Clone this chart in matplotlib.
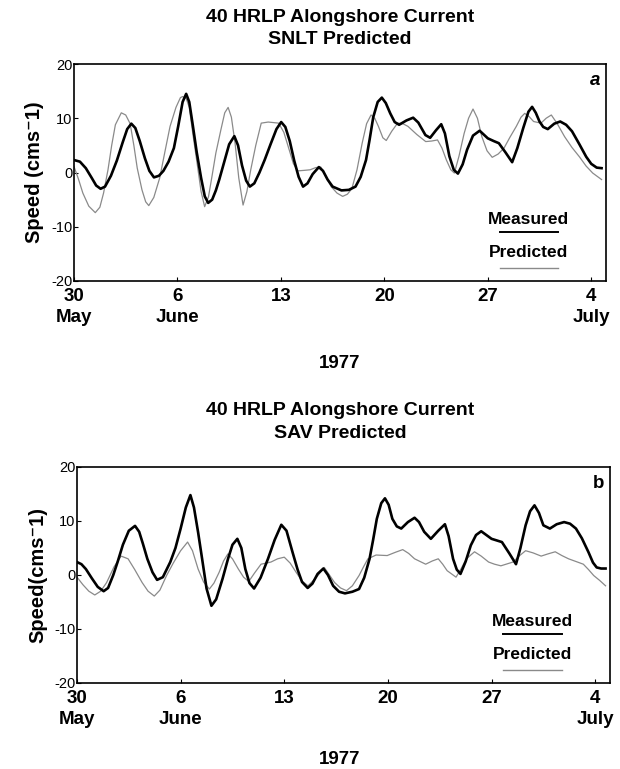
import matplotlib
matplotlib.use("Agg")
import matplotlib.pyplot as plt

plt.rcParams['font.family'] = ['Liberation Sans', 'DejaVu Sans']
plt.rcParams['font.weight'] = 'bold'

meas_a_day = [0, 0.4, 0.8, 1.2, 1.5, 1.8, 2.1, 2.5, 2.9, 3.3, 3.6, 3.88, 4.15, 4.45, 4.8, 5.1,
              5.41, 5.75, 6.05, 6.4, 6.76, 7.05, 7.35, 7.59, 7.8, 8.05, 8.3, 8.6, 8.85, 9.08,
              9.35, 9.6, 9.83, 10.15, 10.5, 10.85, 11.1, 11.37, 11.65, 11.9, 12.2, 12.55, 12.9,
              13.3, 13.7, 14.02, 14.3, 14.6, 14.9, 15.2, 15.5, 15.8, 16.15, 16.57, 16.85, 17.16,
              17.5, 18.1, 18.6, 19.05, 19.4, 19.76, 20.0, 20.25, 20.55, 20.83, 21.1, 21.4, 21.7,
              22.0, 22.5, 22.95, 23.3, 23.78, 24.1, 24.5, 24.85, 25.1, 25.4, 25.7, 25.98, 26.3,
              26.6, 27.0, 27.45, 28.0, 28.4, 28.75, 29.2, 29.65, 30.0, 30.4, 30.75, 31.0, 31.25,
              31.5, 31.75, 32.06, 32.5, 32.9, 33.3, 33.7, 34.2, 34.66, 35.0, 35.37, 35.7]
meas_a = [2.3, 2.0, 0.8, -1.0, -2.4, -3.0, -2.6, -0.6, 2.2, 5.6, 8.0, 9.0, 8.2, 5.8, 2.6, 0.3,
          -0.9, -0.6, 0.3, 2.0, 4.5, 8.5, 13.0, 14.5, 13.0, 8.5, 3.8, -1.0, -4.4, -5.6,
          -5.0, -3.3, -1.3, 1.8, 5.2, 6.7, 5.0, 1.3, -1.5, -2.6, -2.0, 0.0, 2.3,
          5.2, 8.0, 9.3, 8.4, 5.8, 2.2, -0.8, -2.6, -2.0, -0.3, 1.0, 0.3, -1.3,
          -2.6, -3.3, -3.2, -2.6, -0.8, 2.3, 6.0, 10.2, 13.0, 13.8, 12.8, 10.9, 9.3,
          8.8, 9.6, 10.1, 9.2, 6.9, 6.4, 7.8, 8.9, 7.2, 3.0, 0.5, -0.2, 1.5,
          4.2, 6.8, 7.7, 6.3, 5.8, 5.4, 3.7, 1.9, 4.5, 8.2, 11.2, 12.1, 11.0,
          9.4, 8.4, 8.0, 9.0, 9.4, 8.8, 7.6, 5.2, 2.9, 1.6, 0.9, 0.8]

pred_a_day = [0, 0.3, 0.6, 1.0, 1.44, 1.75, 2.0, 2.3, 2.55, 2.8, 3.2, 3.5, 3.8, 4.05, 4.28, 4.6,
              4.85, 5.06, 5.4, 5.8, 6.15, 6.5, 6.9, 7.2, 7.35, 7.6, 7.8, 8.05, 8.3, 8.6, 8.84,
              9.1, 9.35, 9.6, 9.95, 10.2, 10.43, 10.65, 10.9, 11.15, 11.44, 11.7, 11.96, 12.3,
              12.67, 13.14, 13.5, 13.85, 14.2, 14.56, 14.85, 15.15, 15.6, 15.98, 16.35, 16.7,
              17.05, 17.4, 17.8, 18.18, 18.5, 18.8, 19.15, 19.5, 19.8, 20.1, 20.35, 20.6, 20.9,
              21.13, 21.5, 21.9, 22.25, 22.6, 23.2, 23.8, 24.2, 24.6, 24.9, 25.2, 25.5, 25.74,
              26.05, 26.4, 26.7, 27.0, 27.3, 27.6, 27.95, 28.3, 28.7, 29.1, 29.5, 29.93, 30.25,
              30.5, 30.8, 31.1, 31.6, 31.95, 32.3, 32.7, 33.2, 33.7, 34.2, 34.65, 35.1, 35.7]
pred_a = [1.1, -1.2, -3.8, -6.2, -7.4, -6.4, -3.8, 0.5, 5.0, 8.8, 11.0, 10.6, 9.0, 5.0, 0.8, -3.2,
          -5.4, -6.1, -4.6, -1.0, 3.8, 8.5, 12.0, 13.8, 14.0, 13.6, 12.0, 7.0, 2.3, -3.5, -6.3,
          -4.5, -0.5, 3.6, 8.0, 11.0, 12.0, 10.2, 5.4, -1.0, -6.0, -3.5, 0.5, 5.0,
          9.1, 9.3, 9.2, 9.1, 7.4, 4.2, 1.6, 0.3, 0.4, 0.5, 0.9, 1.0,
          -0.8, -2.6, -3.8, -4.4, -4.0, -3.0, 0.5, 5.4, 9.0, 10.6, 10.0, 8.5, 6.4,
          5.9, 7.6, 9.1, 9.0, 8.5, 7.0, 5.7, 5.8, 6.0, 4.5, 2.3, 0.5, -0.1,
          3.0, 7.2, 10.0, 11.7, 10.0, 6.6, 4.0, 2.8, 3.4, 4.5, 6.5, 8.5, 10.2,
          10.9, 10.3, 9.4, 9.1, 10.0, 10.6, 9.0, 6.6, 4.6, 2.9, 1.2, -0.1, -1.3]

meas_b_day = [0, 0.3, 0.6, 1.0, 1.4, 1.8, 2.1, 2.45, 2.74, 3.1, 3.5, 3.92, 4.2, 4.45, 4.75, 5.1,
              5.41, 5.8, 6.3, 6.65, 7.0, 7.35, 7.66, 7.9, 8.18, 8.45, 8.75, 9.08, 9.4, 9.83,
              10.2, 10.5, 10.83, 11.1, 11.37, 11.65, 11.96, 12.4, 12.9, 13.35, 13.8, 14.15,
              14.56, 14.9, 15.2, 15.58, 15.9, 16.25, 16.64, 16.95, 17.3, 17.7, 18.1, 18.6, 19.05,
              19.4, 19.76, 20.0, 20.25, 20.55, 20.8, 21.05, 21.3, 21.6, 21.9, 22.35, 22.8, 23.1,
              23.45, 23.9, 24.4, 24.85, 25.1, 25.4, 25.65, 25.9, 26.25, 26.6, 26.95, 27.3, 28.0,
              28.7, 29.2, 29.65, 29.95, 30.3, 30.6, 30.9, 31.2, 31.5, 31.94, 32.4, 32.9, 33.3,
              33.7, 34.1, 34.55, 34.85, 35.1, 35.4, 35.7]
meas_b = [2.4, 2.0, 1.1, -0.6, -2.2, -3.0, -2.4, 0.0, 2.4, 5.6, 8.2, 9.1, 8.0, 5.8, 3.0, 0.5,
          -0.9, -0.4, 2.4, 5.0, 8.6, 12.5, 14.8, 12.5, 7.9, 3.0, -2.5, -5.7, -4.5, -0.7,
          3.0, 5.6, 6.7, 5.0, 1.1, -1.5, -2.5, -0.5, 3.0, 6.5, 9.3, 8.2,
          4.2, 1.0, -1.3, -2.4, -1.6, 0.2, 1.2, 0.0, -2.0, -3.1, -3.4, -3.1, -2.6,
          -0.5, 3.0, 6.5, 10.4, 13.3, 14.2, 13.0, 10.4, 9.0, 8.6, 9.8, 10.6, 9.8,
          8.0, 6.7, 8.2, 9.4, 7.2, 3.0, 1.0, 0.2, 2.5, 5.5, 7.4, 8.1, 6.7,
          6.1, 4.0, 2.0, 5.0, 9.2, 11.8, 12.9, 11.5, 9.2, 8.6, 9.4, 9.8, 9.5,
          8.6, 6.8, 4.2, 2.3, 1.4, 1.2, 1.2]

pred_b_day = [0, 0.4, 0.8, 1.2, 1.6, 2.0, 2.5, 2.98, 3.45, 3.9, 4.4, 4.8, 5.22, 5.6, 6.05, 6.5,
              7.0, 7.47, 7.8, 8.18, 8.55, 8.94, 9.25, 9.6, 9.9, 10.19, 10.5, 10.9, 11.25, 11.6,
              12.0, 12.43, 13.1, 13.55, 14.0, 14.4, 14.8, 15.2, 15.6, 16.15, 16.7, 17.05, 17.4,
              17.8, 18.2, 18.6, 19.05, 19.35, 19.65, 20.2, 20.95, 21.5, 22.0, 22.4, 22.8, 23.55,
              24.0, 24.4, 24.7, 25.0, 25.6, 25.95, 26.3, 26.85, 27.3, 27.8, 28.2, 28.63, 29.45,
              29.9, 30.3, 30.8, 31.35, 31.8, 32.3, 32.75, 33.2, 33.7, 34.2, 34.55, 34.9, 35.3, 35.7]
pred_b = [-0.4, -1.8, -3.0, -3.7, -3.0, -1.4, 1.5, 3.5, 3.0, 1.0, -1.4, -3.0, -3.9, -2.8, -0.1, 2.2,
          4.5, 6.1, 4.5, 1.1, -1.3, -2.6, -1.5, 0.5, 2.6, 3.9, 3.0, 1.1, -0.4, -1.2,
          0.4, 2.0, 2.4, 3.0, 3.3, 2.2, 0.5, -1.1, -2.0, -0.5, 1.4, 0.0, -1.4,
          -2.4, -2.9, -2.0, -0.1, 1.5, 3.0, 3.7, 3.6, 4.2, 4.7, 4.0, 3.0, 2.0,
          2.6, 3.0, 2.0, 0.8, -0.4, 1.2, 3.0, 4.3, 3.5, 2.4, 2.0, 1.7, 2.4,
          3.6, 4.5, 4.1, 3.5, 3.9, 4.3, 3.6, 3.0, 2.5, 2.0, 1.0, -0.1, -1.0, -2.0]

tick_days = [0, 7, 14, 21, 28, 35]
tick_labels = ["30\nMay", "6\nJune", "13", "20", "27", "4\nJuly"]
yticks = [-20, -10, 0, 10, 20]

W, H = 620, 769
fig = plt.figure(figsize=(W / 100, H / 100), dpi=100)


def panel(rect, md, m, pd, p, title2, ylab, letter, italic, ytitle, yyear):
    ax = fig.add_axes(rect)
    ax.plot(pd, p, color='#8a8a8a', lw=0.9)
    ax.plot(md, m, color='black', lw=1.9)
    ax.set_xlim(0, 36)
    ax.set_ylim(-20, 20)
    ax.set_xticks(tick_days)
    ax.set_xticklabels(tick_labels, fontsize=13.5, linespacing=1.3)
    ax.set_yticks(yticks)
    ax.set_yticklabels([str(v) for v in yticks], fontsize=10.5, fontweight='normal')
    ax.tick_params(axis='x', direction='in', length=3, pad=5)
    ax.tick_params(axis='y', direction='in', length=3, pad=1)
    for s in ax.spines.values():
        s.set_linewidth(1.2)
    ax.set_ylabel(ylab, fontsize=14.5, fontweight='bold', labelpad=5)
    ax.text(0.99, 0.965, letter, transform=ax.transAxes, ha='right', va='top',
            fontsize=13.5, style='italic' if italic else 'normal')
    # legend drawn as text + short lines
    ax.text(0.855, 0.285, "Measured", transform=ax.transAxes, ha='center', va='center', fontsize=12.5)
    ax.plot([0.80, 0.91], [0.225, 0.225], transform=ax.transAxes, color='black', lw=1.4)
    ax.text(0.855, 0.13, "Predicted", transform=ax.transAxes, ha='center', va='center', fontsize=12.5)
    ax.plot([0.80, 0.91], [0.06, 0.06], transform=ax.transAxes, color='#8a8a8a', lw=1.0)
    fig.text(340 / W, 1 - ytitle / H, "40 HRLP Alongshore Current", ha='center', va='center', fontsize=14)
    fig.text(340 / W, 1 - (ytitle + 23) / H, title2, ha='center', va='center', fontsize=14)
    fig.text(340 / W, 1 - yyear / H, "1977", ha='center', va='center', fontsize=13.5)
    return ax


panel([74 / W, 1 - 281 / H, 532 / W, 217 / H], meas_a_day, meas_a, pred_a_day, pred_a,
      "SNLT Predicted", "Speed (cms\u207b1)", "a", True, 17, 363)
panel([77 / W, 1 - 683 / H, 533 / W, 216 / H], meas_b_day, meas_b, pred_b_day, pred_b,
      "SAV Predicted", "Speed(cms\u207b1)", "b", False, 410, 760)

fig.savefig("out.png", dpi=100)
